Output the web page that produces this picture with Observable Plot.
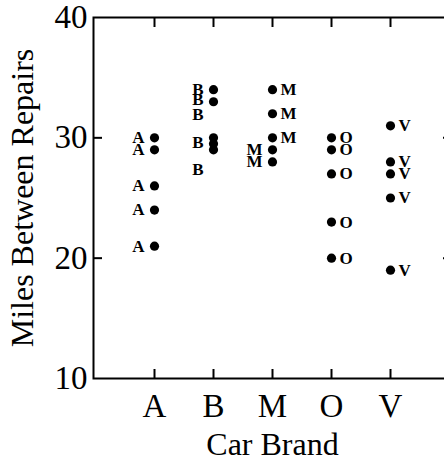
<!DOCTYPE html>
<html>
<head>
<meta charset="utf-8">
<script src="https://cdn.jsdelivr.net/npm/d3@7"></script>
<script src="https://cdn.jsdelivr.net/npm/@observablehq/plot@0.6"></script>
<style>
  html, body { margin: 0; padding: 0; background: #fff; overflow: hidden; }
</style>
</head>
<body>
<div id="chart"></div>
<script>
// Miles between repairs, five cars of each brand
const brands = ["A", "B", "M", "O", "V"];
const milesA = [30, 29, 26, 24, 21];
const milesB = [34, 33, 30, 29.5, 29];
const milesM = [34, 32, 30, 29, 28];
const milesO = [30, 29, 27, 23, 20];
const milesV = [31, 28, 27, 25, 19];

// B's letters are spread apart so they don't pile up on the cluster near 30
const letterAtB = [34.0, 33.2, 31.9, 29.6, 27.4];

// side of the dot each letter is written on
const sideA = ["left", "left", "left", "left", "left"];
const sideB = ["left", "left", "left", "left", "left"];
const sideM = ["right", "right", "right", "left", "left"];
const sideO = ["right", "right", "right", "right", "right"];
const sideV = ["right", "right", "right", "right", "right"];

const yTicks = [10, 20, 30, 40];
const innerYTicks = [20, 30];

const series = [
  [milesA, milesA, sideA],
  [milesB, letterAtB, sideB],
  [milesM, milesM, sideM],
  [milesO, milesO, sideO],
  [milesV, milesV, sideV]
];

const rows = series.flatMap(([miles, letterAt, side], i) =>
  miles.map((m, j) => ({brand: brands[i], miles: m, letterAt: letterAt[j], side: side[j]}))
);

const serif = "'Liberation Serif', 'Times New Roman', serif";
const blank = () => "";

const chart = Plot.plot({
  width: 444,
  height: 462,
  marginLeft: 93,
  marginRight: -7,
  marginTop: 17,
  marginBottom: 84,
  style: {fontFamily: serif, fontSize: "16px", color: "black", background: "white"},
  x: {type: "point", domain: brands, padding: 1},
  y: {domain: [10, 40]},
  marks: [
    Plot.frame({stroke: "black", strokeWidth: 2}),
    // tick labels
    Plot.axisX({anchor: "bottom", tickSize: 0, tickPadding: 15, fontSize: 33, label: null}),
    Plot.axisY({anchor: "left", ticks: yTicks, tickSize: 0, tickPadding: 6, fontSize: 33, label: null}),
    // inward ticks on all four sides
    Plot.axisX({anchor: "bottom", tickSize: -9, strokeWidth: 2, tickFormat: blank, label: null}),
    Plot.axisX({anchor: "top", tickSize: -9, strokeWidth: 2, tickFormat: blank, label: null}),
    Plot.axisY({anchor: "left", ticks: innerYTicks, tickSize: -9, strokeWidth: 2, tickFormat: blank, label: null}),
    Plot.axisY({anchor: "right", ticks: innerYTicks, tickSize: -9, strokeWidth: 2, tickFormat: blank, label: null}),
    // the cars
    Plot.dot(rows, {x: "brand", y: "miles", r: 4.6, fill: "black", stroke: null}),
    Plot.text(rows.filter(d => d.side === "left"), {
      x: "brand", y: "letterAt", text: "brand", textAnchor: "end", dx: -10,
      fontSize: 17, fontWeight: "bold"
    }),
    Plot.text(rows.filter(d => d.side === "right"), {
      x: "brand", y: "miles", text: "brand", textAnchor: "start", dx: 8,
      fontSize: 17, fontWeight: "bold"
    }),
    // axis titles
    Plot.text(["Car Brand"], {
      frameAnchor: "bottom", dy: 66, lineAnchor: "middle", textAnchor: "middle", fontSize: 32
    }),
    Plot.text(["Miles Between Repairs"], {
      frameAnchor: "left", dx: -71, rotate: -90, lineAnchor: "middle", textAnchor: "middle", fontSize: 32
    })
  ]
});

document.getElementById("chart").appendChild(chart);
</script>
</body>
</html>
